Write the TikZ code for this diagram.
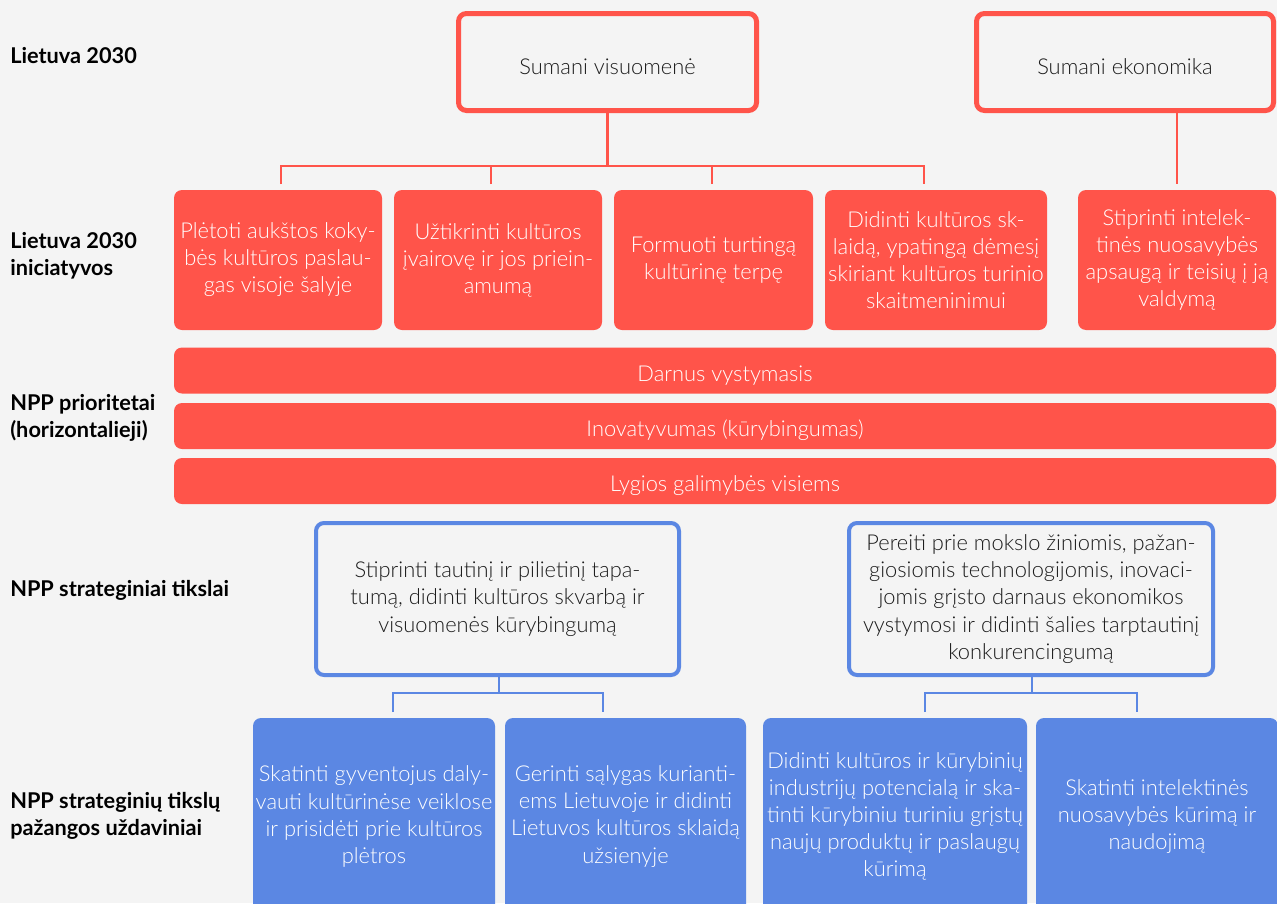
\documentclass[tikz,border=0pt]{standalone}
\usepackage{fontspec}
\IfFontExistsTF{Lato Light}
  {\setmainfont{Lato Light}[BoldFont={Lato Bold}]}
  {\setmainfont{Lato}}
\definecolor{bgc}{RGB}{244,244,244}
\definecolor{redc}{RGB}{255,84,74}
\definecolor{bluec}{RGB}{91,135,227}
\definecolor{txtc}{RGB}{28,28,28}
\newcommand\bxf{\fontsize{16.4}{20.3}\selectfont}
\newcommand\lblf{\fontsize{16.3}{20.5}\selectfont\bfseries}
\begin{document}
\begin{tikzpicture}[x=0.75pt,y=-0.75pt,
  base/.style={inner sep=0pt, align=center, font=\bxf, execute at begin node={\rule{0pt}{19.5pt}}},
  outred/.style={base, draw=redc, line width=3.75pt, rounded corners=6pt, fill=bgc, text=txtc},
  fillred/.style={base, fill=redc, rounded corners=6pt, text=white},
  outblue/.style={base, draw=bluec, line width=3pt, rounded corners=6pt, fill=bgc, text=txtc},
  fillblue/.style={base, fill=bluec, rounded corners=6pt, text=white},
  rlink/.style={draw=redc, line width=1.9pt},
  blink/.style={draw=bluec, line width=1.9pt},
  lbl/.style={anchor=west, align=left, inner sep=0pt, font=\lblf, text=black}]
\fill[bgc] (0,0) rectangle (1277,903);
\useasboundingbox (0,0) rectangle (1277,903);
\clip (0,0) rectangle (1277,903);

% row labels
\node[lbl] (l1) at (10,56) {Lietuva 2030};
\node[lbl] (l2) at (10,256) {Lietuva 2030\\iniciatyvos};
\node[lbl] (l3) at (10,418) {NPP prioritetai\\(horizontalieji)};
\node[lbl] (l4) at (10,590) {NPP strateginiai tikslai};
\node[lbl] (l5) at (10,816) {NPP strateginių tikslų\\pažangos uždaviniai};

% Lietuva 2030
\node[outred, minimum width=223.5pt, minimum height=72.75pt] (sv) at (607.5,62) {Sumani visuomenė};
\node[outred, minimum width=222.75pt, minimum height=72.75pt] (se) at (1125,62) {Sumani ekonomika};

% initiatives
\node[fillred, minimum width=156pt, minimum height=105pt] (b1) at (278,260) {Plėtoti aukštos koky-\\bės kultūros paslau-\\gas visoje šalyje};
\node[fillred, minimum width=156pt, minimum height=105pt] (b2) at (498,260) {Užtikrinti kultūros\\įvairovę ir jos priein-\\amumą};
\node[fillred, minimum width=149.25pt, minimum height=105pt] (b3) at (713.5,260) {Formuoti turtingą\\kultūrinę terpę};
\node[fillred, minimum width=166.5pt, minimum height=105pt] (b4) at (936,260) {Didinti kultūros sk-\\laidą, ypatingą dėmesį\\skiriant kultūros turinio\\skaitmeninimui};
\node[fillred, minimum width=148.5pt, minimum height=105pt] (b5) at (1177,260) {Stiprinti intelek-\\tinės nuosavybės\\apsaugą ir teisių į ją\\valdymą};

% priorities
\node[fillred, minimum width=826.5pt, minimum height=34.5pt] (p1) at (725,370.5) {Darnus vystymasis};
\node[fillred, minimum width=826.5pt, minimum height=34.5pt] (p2) at (725,426) {Inovatyvumas (kūrybingumas)};
\node[fillred, minimum width=826.5pt, minimum height=34.5pt] (p3) at (725,481) {Lygios galimybės visiems};

% strategic goals
\node[outblue, minimum width=272.25pt, minimum height=114pt] (ga) at (497.5,599) {Stiprinti tautinį ir pilietinį tapa-\\tumą, didinti kultūros skvarbą ir\\visuomenės kūrybingumą};
\node[outblue, minimum width=273pt, minimum height=114pt] (gb) at (1031,599) {Pereiti prie mokslo žiniomis, pažan-\\giosiomis technologijomis, inovaci-\\jomis grįsto darnaus ekonomikos\\vystymosi ir didinti šalies tarptautinį\\konkurencingumą};

% tasks
\node[fillblue, minimum width=181.5pt, minimum height=147.75pt] (t1) at (374,816.5) {Skatinti gyventojus daly-\\vauti kultūrinėse veiklose\\ir prisidėti prie kultūros\\plėtros};
\node[fillblue, minimum width=180.75pt, minimum height=147.75pt] (t2) at (625.5,816.5) {Gerinti sąlygas kurianti-\\ems Lietuvoje ir didinti\\Lietuvos kultūros sklaidą\\užsienyje};
\node[fillblue, minimum width=198pt, minimum height=147.75pt] (t3) at (895,816.5) {Didinti kultūros ir kūrybinių\\industrijų potencialą ir ska-\\tinti kūrybiniu turiniu grįstų\\naujų produktų ir paslaugų\\kūrimą};
\node[fillblue, minimum width=181.5pt, minimum height=147.75pt] (t4) at (1157,816.5) {Skatinti intelektinės\\nuosavybės kūrimą ir\\naudojimą};

% red connectors
\coordinate (jr) at (607.5,166);
\coordinate (d1) at (281,184);
\coordinate (d2) at (491,184);
\coordinate (d3) at (712,184);
\coordinate (d4) at (924,184);
\coordinate (d5) at (1177,184);
\draw[rlink] (sv.south) -- (jr);
\draw[rlink] (d1) |- (jr) -| (d4);
\draw[rlink] (d2) -- (d2 |- jr);
\draw[rlink] (d3) -- (d3 |- jr);
\draw[rlink] (se.south -| d5) -- (d5);

% blue connectors
\coordinate (ja) at (499,693);
\coordinate (a1) at (393,712);
\coordinate (a2) at (603,712);
\draw[blink] (ga.south -| ja) -- (ja);
\draw[blink] (a1) |- (ja) -| (a2);
\coordinate (jb) at (1032,693);
\coordinate (c1) at (925,712);
\coordinate (c2) at (1137,712);
\draw[blink] (gb.south -| jb) -- (jb);
\draw[blink] (c1) |- (jb) -| (c2);
\end{tikzpicture}
\end{document}
